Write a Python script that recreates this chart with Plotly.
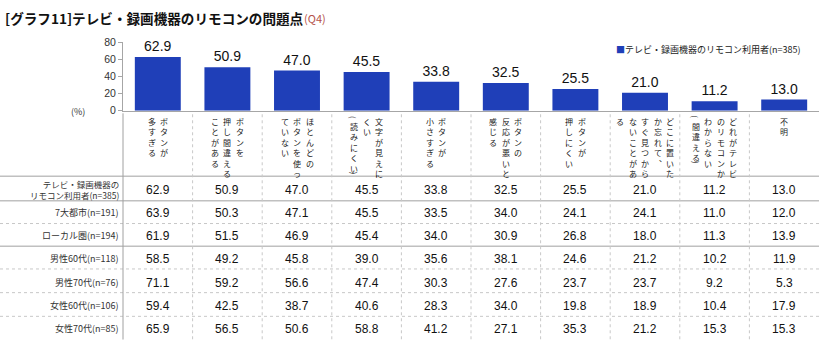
import plotly.graph_objects as go

W, H = 826, 361

# ---------------- data ----------------
categories = [
    "ボタンが多すぎる",
    "ボタンを押し間違えることがある",
    "ほとんどのボタンを使っていない",
    "文字が見えにくい(読みにくい)",
    "ボタンが小さすぎる",
    "ボタンの反応が悪いと感じる",
    "ボタンが押しにくい",
    "どこに置いたか忘れて、すぐ見つからないことがある",
    "どれがテレビのリモコンかわからない(間違える)",
    "不明",
]
# vertical (tategaki) column splits of each category, right-most column first
category_columns = [
    ["ボタンが", "多すぎる"],
    ["ボタンを", "押し間違える", "ことがある"],
    ["ほとんどの", "ボタンを使っ", "ていない"],
    ["文字が見えに", "くい", "(読みにくい)"],
    ["ボタンが", "小さすぎる"],
    ["ボタンの", "反応が悪いと", "感じる"],
    ["ボタンが", "押しにくい"],
    ["どこに置いた", "か忘れて︑", "すぐ見つから", "ないことがあ", "る"],
    ["どれがテレビ", "のリモコンか", "わからない", "(間違える)"],
    ["不明"],
]
series_name = "テレビ・録画機器のリモコン利用者(n=385)"
values = [62.9, 50.9, 47.0, 45.5, 33.8, 32.5, 25.5, 21.0, 11.2, 13.0]

row_labels = [
    "テレビ・録画機器の<br>リモコン利用者(n=385)",
    "7大都市(n=191)",
    "ローカル圏(n=194)",
    "男性60代(n=118)",
    "男性70代(n=76)",
    "女性60代(n=106)",
    "女性70代(n=85)",
]
table_values = [
    [62.9, 50.9, 47.0, 45.5, 33.8, 32.5, 25.5, 21.0, 11.2, 13.0],
    [63.9, 50.3, 47.1, 45.5, 33.5, 34.0, 24.1, 24.1, 11.0, 12.0],
    [61.9, 51.5, 46.9, 45.4, 34.0, 30.9, 26.8, 18.0, 11.3, 13.9],
    [58.5, 49.2, 45.8, 39.0, 35.6, 38.1, 24.6, 21.2, 10.2, 11.9],
    [71.1, 59.2, 56.6, 47.4, 30.3, 27.6, 23.7, 23.7, 9.2, 5.3],
    [59.4, 42.5, 38.7, 40.6, 28.3, 34.0, 19.8, 18.9, 10.4, 17.9],
    [65.9, 56.5, 50.6, 58.8, 41.2, 27.1, 35.3, 21.2, 15.3, 15.3],
]
y_ticks = [0, 20, 40, 60, 80]

# ---------------- layout helpers ----------------
def px(x):
    return x / W

def py(y):
    return 1 - y / H

BAR_COLOR = "#1f3fb8"
JP = "Noto Sans CJK JP, Liberation Sans"
NUM = "Liberation Sans, Noto Sans CJK JP"

X0, X1 = 123, 819          # plot area left/right (px)
Y_TOP, Y_ZERO = 37.7, 108.3
TABLE_BOTTOM = 345
row_centers = [189.5, 213.5, 237, 261.5, 286.5, 310, 334]
row_lines = [(176, "solid"), (201.5, "solid"), (225, "dot"), (248.5, "solid"),
             (272, "dot"), (296.5, "dot"), (321, "dot")]

fig = go.Figure()
fig.add_trace(go.Bar(
    x=categories, y=values, name=series_name,
    marker=dict(color=BAR_COLOR, line=dict(width=0)),
    width=0.66,
    text=[f"{v:.1f}" for v in values],
    textposition="outside",
    textfont=dict(family=NUM, size=14, color="#111111"),
    constraintext="none",
    cliponaxis=False,
    showlegend=False,
))

annotations = []
shapes = []

# title
annotations.append(dict(
    xref="paper", yref="paper", x=px(4), y=py(12), xanchor="left", yanchor="middle",
    text="<b>[グラフ11]テレビ・録画機器のリモコンの問題点</b>", showarrow=False, borderpad=0,
    font=dict(family=JP, size=13.6, color="#111111")))
annotations.append(dict(
    xref="paper", yref="paper", x=px(303), y=py(12.5), xanchor="left", yanchor="middle",
    text="(Q4)", showarrow=False, borderpad=0,
    font=dict(family=JP, size=11, color="#b5524a")))

# legend
annotations.append(dict(
    xref="paper", yref="paper", x=px(615), y=py(44.5), xanchor="left", yanchor="middle",
    text=f"<span style='color:{BAR_COLOR}'>■</span>{series_name}", showarrow=False,
    borderpad=0, font=dict(family=JP, size=9, color="#222222")))

# unit
annotations.append(dict(
    xref="paper", yref="paper", x=px(78), y=py(109), xanchor="center", yanchor="middle",
    text="(%)", showarrow=False, borderpad=0,
    font=dict(family=JP, size=9, color="#333333")))

# vertical category labels (one text column per annotation, characters stacked)
COLSP = 12.5
FS_V = 8
LINE = 1.3 * FS_V
V_TOP = 113.0
for i, cols in enumerate(category_columns):
    n = len(cols)
    for j, col in enumerate(cols):
        xs = ((n - 1) / 2 - j) * COLSP
        cur = V_TOP
        opened = col.startswith("(")
        closed = col.endswith(")")
        inner = col.strip("()")
        if opened:
            annotations.append(dict(
                xref="x", yref="paper", x=categories[i], xshift=xs, y=py(cur + 2),
                xanchor="center", yanchor="middle", text="(", textangle=90,
                showarrow=False, borderpad=0,
                font=dict(family=JP, size=FS_V, color="#222222")))
            cur += 5
        annotations.append(dict(
            xref="x", yref="paper", x=categories[i], xshift=xs, y=py(cur),
            xanchor="center", yanchor="top", text="<br>".join(inner),
            showarrow=False, borderpad=0,
            font=dict(family=JP, size=FS_V, color="#222222")))
        if closed:
            bottom = cur + (len(inner) - 1) * LINE + 1.45 * FS_V
            annotations.append(dict(
                xref="x", yref="paper", x=categories[i], xshift=xs, y=py(bottom + 1.5),
                xanchor="center", yanchor="middle", text=")", textangle=90,
                showarrow=False, borderpad=0,
                font=dict(family=JP, size=FS_V, color="#222222")))

# table row labels and values
for r, lab in enumerate(row_labels):
    annotations.append(dict(
        xref="paper", yref="paper", x=px(120), y=py(row_centers[r]),
        xanchor="right", yanchor="middle", align="right", text=lab, showarrow=False,
        borderpad=0, font=dict(family=JP, size=8.5 if r == 0 else 9, color="#333333")))
    for c, v in enumerate(table_values[r]):
        annotations.append(dict(
            xref="x", yref="paper", x=categories[c], y=py(row_centers[r] + 0.5),
            xanchor="center", yanchor="middle", text=f"{v:.1f}", showarrow=False,
            borderpad=0, font=dict(family=NUM, size=12, color="#111111")))

# table lines
for yy, style in row_lines:
    shapes.append(dict(
        type="line", xref="paper", yref="paper", x0=0, x1=px(X1), y0=py(yy), y1=py(yy),
        line=dict(color="#c0c0c0" if style == "solid" else "#c8c8c8",
                  width=1.5 if style == "solid" else 1, dash=style)))
colw = (X1 - X0) / len(categories)
for k in range(1, len(categories)):
    xx = X0 + k * colw
    shapes.append(dict(
        type="line", xref="paper", yref="paper", x0=px(xx), x1=px(xx),
        y0=py(112), y1=py(TABLE_BOTTOM),
        line=dict(color="#c8c8c8", width=1, dash="dot")))
shapes.append(dict(
    type="line", xref="paper", yref="paper", x0=px(X0), x1=px(X0),
    y0=py(111), y1=py(TABLE_BOTTOM), line=dict(color="#a0a0a0", width=1)))

fig.update_layout(
    width=W, height=H, autosize=False,
    margin=dict(l=0, r=0, t=0, b=0, pad=0),
    paper_bgcolor="white", plot_bgcolor="white",
    xaxis=dict(domain=[px(X0), px(X1)], range=[-0.5, len(categories) - 0.5],
               showticklabels=False, showgrid=False, zeroline=False,
               showline=True, linecolor="#a6a6a6", linewidth=1, ticks=""),
    yaxis=dict(domain=[py(Y_ZERO), py(Y_TOP)], range=[0, 80], tickvals=y_ticks,
               showgrid=False, zeroline=False, showline=True, linecolor="#a6a6a6",
               linewidth=1, ticks="outside", ticklen=4, tickcolor="#a6a6a6",
               tickfont=dict(family=NUM, size=10.5, color="#333333")),
    annotations=annotations,
    shapes=shapes,
    font=dict(family=JP),
)

fig.write_html("out.html", config={"displayModeBar": False},
               post_script="document.body.style.margin='0px';")
